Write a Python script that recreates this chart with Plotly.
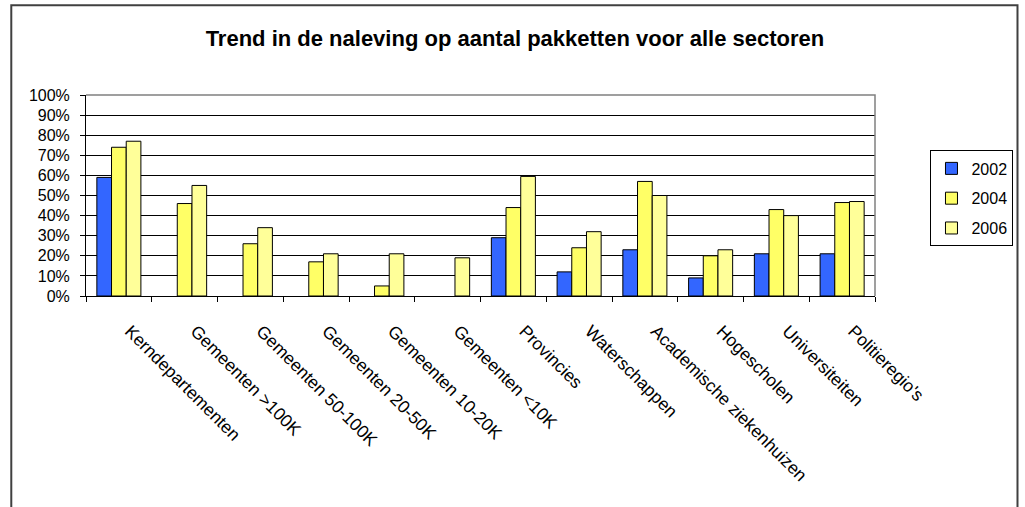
import plotly.graph_objects as go

categories = ["Kerndepartementen", "Gemeenten >100K", "Gemeenten 50-100K", "Gemeenten 20-50K",
              "Gemeenten 10-20K", "Gemeenten <10K", "Provincies", "Waterschappen",
              "Academische ziekenhuizen", "Hogescholen", "Universiteiten", "Politieregio's"]
v2002 = [0.59, None, None, None, None, None, 0.29, 0.12, 0.23, 0.09, 0.21, 0.21]
v2004 = [0.74, 0.46, 0.26, 0.17, 0.05, None, 0.44, 0.24, 0.57, 0.20, 0.43, 0.465]
v2006 = [0.77, 0.55, 0.34, 0.21, 0.21, 0.19, 0.595, 0.32, 0.50, 0.23, 0.40, 0.47]
series_names = ["2002", "2004", "2006"]
colors = ["#3366FF", "#FFFF66", "#FFFF99"]
y_ticks = [i / 10 for i in range(11)]

FONT = "Liberation Sans, Arial, sans-serif"
fig = go.Figure()
for name, vals, col in zip(series_names, [v2002, v2004, v2006], colors):
    fig.add_trace(go.Bar(x=categories, y=vals, name=name, legendgroup=name,
                         marker=dict(color=col, line=dict(color="#000000", width=1))))

fig.update_layout(
    width=1025, height=507,
    margin=dict(l=86, r=147, t=95, b=211),
    paper_bgcolor="white", plot_bgcolor="white",
    barmode="group", bargap=0.33, bargroupgap=0,
    font=dict(family=FONT, size=16, color="black"),
    title=dict(text="<b>Trend in de naleving op aantal pakketten voor alle sectoren</b>",
               x=0.5024, xanchor="center", xref="container",
               y=0.925, yanchor="middle", yref="container",
               font=dict(family=FONT, size=22, color="black")),
    showlegend=True,
    legend=dict(x=1.1755, xanchor="right", y=0.724, yanchor="top",
                bordercolor="#000000", borderwidth=1, bgcolor="white",
                font=dict(family=FONT, size=16), tracegroupgap=6, itemwidth=30),
    xaxis=dict(showline=True, linecolor="black", linewidth=1, ticks="outside",
               tickson="boundaries", ticklen=5, tickcolor="black", tickangle=45,
               showgrid=False, tickfont=dict(family=FONT, size=17.5),
               ticklabelstandoff=17, ticklabelshift=11),
    yaxis=dict(range=[0, 1], tickvals=y_ticks, tickformat=".0%", showline=True,
               linecolor="black", linewidth=1, ticks="outside", ticklen=5,
               tickcolor="black", showgrid=True, gridcolor="black", gridwidth=1,
               zeroline=False, tickfont=dict(family=FONT, size=16),
               ticklabelstandoff=7),
    shapes=[
        dict(type="path", xref="paper", yref="paper", path="M 0,1 L 1,1 L 1,0",
             line=dict(color="#808080", width=1.5), layer="above"),
        dict(type="rect", xref="paper", yref="paper", x0=-0.0947, x1=1.1806,
             y0=-2, y1=1.446, line=dict(color="#404040", width=2),
             fillcolor="rgba(0,0,0,0)", layer="below"),
    ],
)

fig.write_html("out.html", config={"displayModeBar": False},
               post_script="document.body.style.margin='0';document.body.style.overflow='hidden';")
